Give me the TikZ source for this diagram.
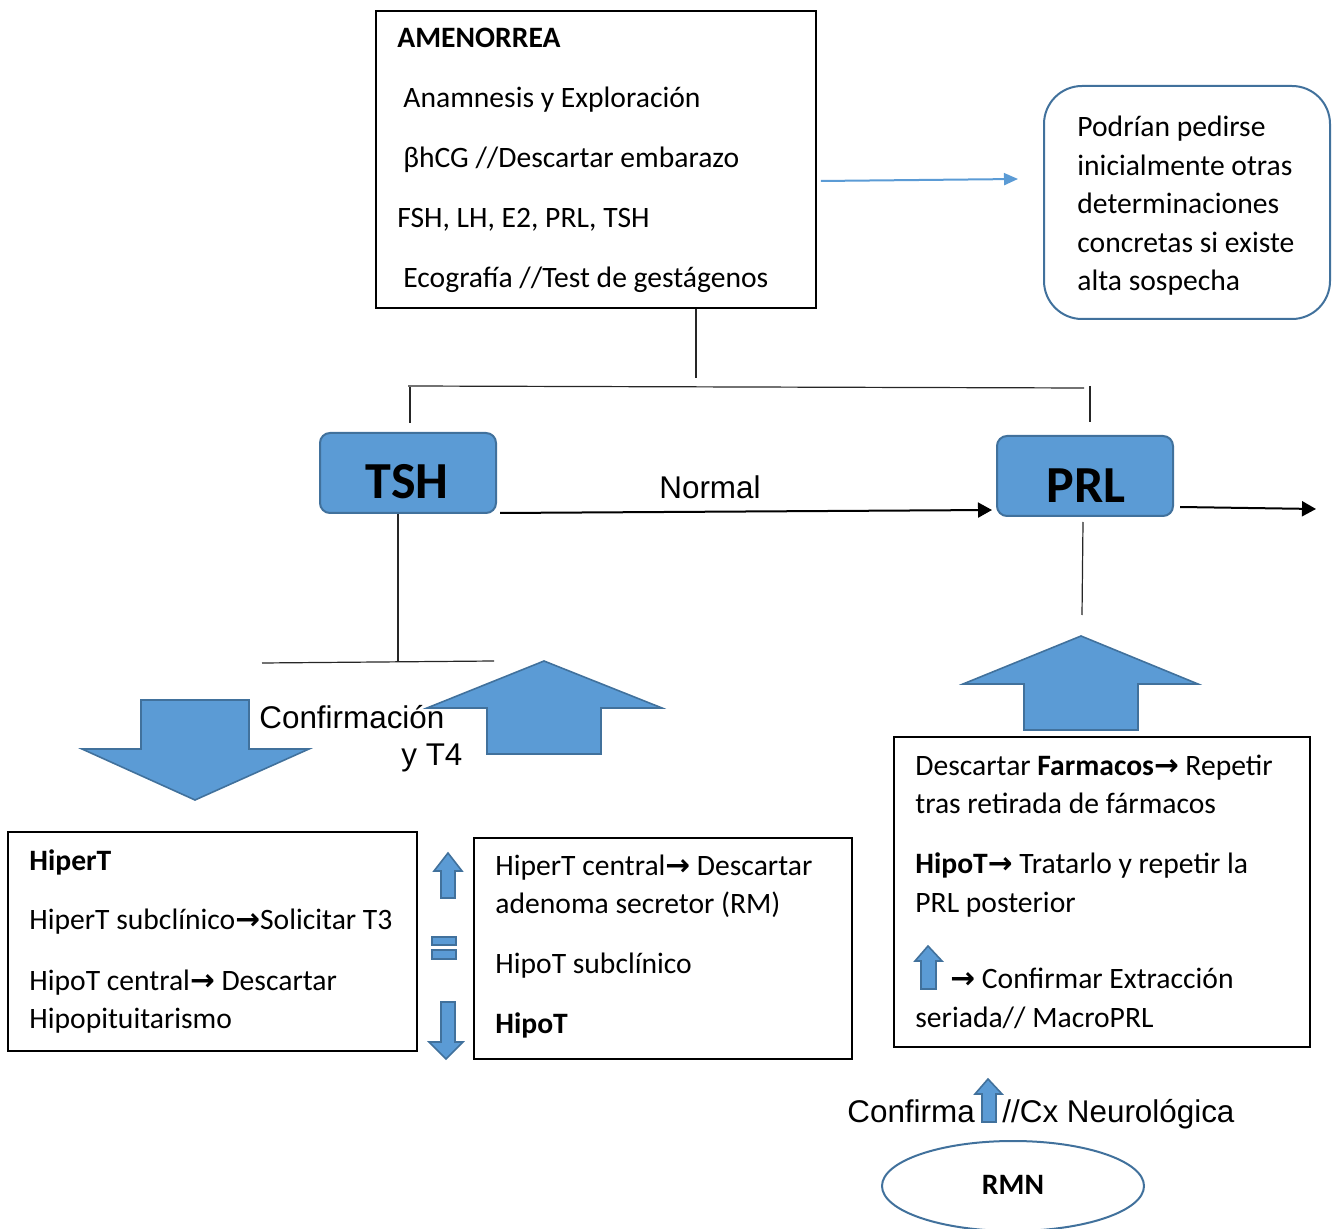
\documentclass[tikz,border=0pt]{standalone}
\usepackage{fontspec}
\setmainfont{Carlito}
\newfontfamily\arialf{Liberation Sans}
\newfontfamily\symf{DejaVu Sans}
\usetikzlibrary{arrows.meta,fit,shapes.geometric,calc}
\definecolor{bfill}{HTML}{5B9BD5}
\definecolor{bdark}{HTML}{41719C}
\newcommand{\rarr}{{\symf\bfseries\char"2192}}
\begin{document}
\begin{tikzpicture}[x={(0.5pt,0)},y={(0,-0.5pt)},
  every node/.style={font=\fontsize{14.8}{17}\selectfont},
  box/.style={draw=black,line width=0.75pt,inner sep=0pt},
  txt/.style={anchor=base west,inner sep=0pt},
  bluebox/.style={draw=bdark,fill=bfill,line width=1pt,rounded corners=5pt,inner sep=0pt},
  bigtxt/.style={inner sep=0pt,font=\fontsize{26}{26}\selectfont\bfseries},
  arl/.style={inner sep=0pt,anchor=base west,font=\arialf\fontsize{15.7}{18}\selectfont},
  blk/.style={draw=bdark,fill=bfill,line width=0.8pt,line join=miter},
  conn/.style={draw=black!85,line width=0.6pt},
  harrow/.style={draw=black,line width=1pt,-{Triangle[length=7pt,width=7.5pt]}},
]
\useasboundingbox (0,0) rectangle (1333,1229);

% AMENORREA box
\node[box,fit={(376,11) (816,308)}] (amen) {};
\node[txt] (a1) at (397,48) {\textbf{AMENORREA}};
\node[txt] (a2) at (403,108) {Anamnesis y Exploración};
\node[txt] (a3) at (403,168) {βhCG //Descartar embarazo};
\node[txt] (a4) at (397,228) {FSH, LH, E2, PRL, TSH};
\node[txt] (a5) at (403,288) {Ecografía //Test de gestágenos};

% rounded side box
\node[draw=bdark,line width=1pt,rounded corners=19pt,inner sep=0pt,fit={(1044,86) (1330,319)}] (side) {};
\node[txt] (s1) at (1077,137) {Podrían pedirse};
\node[txt] (s2) at (1077,176) {inicialmente otras};
\node[txt] (s3) at (1077,214) {determinaciones};
\node[txt] (s4) at (1077,253) {concretas si existe};
\node[txt] (s5) at (1077,291) {alta sospecha};
\coordinate (sidetip) at (1018,179);
\draw[draw=bfill,line width=1pt,-{Triangle[length=7pt,width=6pt]}] (amen.east |- 0,181) ++(4,0) -- (sidetip);

% tree from AMENORREA
\coordinate (split) at (696,378);
\coordinate (hl) at (408,386);
\coordinate (hr) at (1084,388);
\coordinate (tl) at (410,387);
\coordinate (tr) at (1090,386);
\draw[conn] (amen.south -| split) -- (split);
\draw[conn] (hl) -- (hr);

% TSH and PRL boxes
\node[bluebox,minimum width=88pt,minimum height=40pt] (tsh) at (408,473) {};
\node[bigtxt] (tshl) at (407,482) {TSH};
\node[bluebox,minimum width=88pt,minimum height=40pt] (prl) at (1085,476) {};
\node[bigtxt] (prll) at (1086,486) {PRL};
\draw[conn] (tl) -- ($(tl)+(0,36)$);
\draw[conn] (tr) -- ($(tr)+(0,36)$);

% Normal arrow
\coordinate (nend) at (992,510);
\draw[harrow] (500,513) -- (nend);
\node[arl] (normal) at (659,499) {Normal};
\coordinate (prlout) at (1316,509);
\draw[harrow] (prl.east |- 0,507) ++(6,0) -- (prlout);

% TSH branch lines
\coordinate (tdown) at (398,662);
\draw[conn] (tdown |- tsh.south) -- (tdown);
\draw[conn] (262,663) -- (494,661);

% PRL line
\coordinate (pdown) at (1082,615);
\draw[conn] (1083,522) -- (pdown);

% big block arrows
\draw[blk] (141,700) -- (249,700) -- (249,749) -- (309,749) -- (195,800) -- (82,749) -- (141,749) -- cycle;
\draw[blk] (544,661) -- (662,708) -- (601,708) -- (601,754) -- (487,754) -- (487,708) -- (427,708) -- cycle;
\draw[blk] (1081,636) -- (1198,684) -- (1138,684) -- (1138,730) -- (1024,730) -- (1024,684) -- (963,684) -- cycle;
\node[arl] (conf) at (259,728) {Confirmación};
\node[arl] (yt4) at (401,765) {y T4};

% HiperT box
\node[box,fit={(8,832) (417,1051)}] (hiper) {};
\node[txt] (h1) at (29,870) {\textbf{HiperT}};
\node[txt] (h2) at (29,929) {HiperT subclínico\rarr Solicitar T3};
\node[txt] (h3) at (29,990) {HipoT central\rarr{} Descartar};
\node[txt] (h4) at (29,1028) {Hipopituitarismo};

% small symbols
\draw[blk] (448,853) -- (462,871) -- (455,871) -- (455,898) -- (441,898) -- (441,871) -- (434,871) -- cycle;
\draw[blk] (432,937) rectangle (456,945);
\draw[blk] (432,950) rectangle (456,959);
\draw[blk] (441,1002) -- (455,1002) -- (455,1042) -- (463,1042) -- (446,1059) -- (429,1042) -- (441,1042) -- cycle;

% middle box
\node[box,fit={(474,838) (852,1059)}] (mid) {};
\node[txt] (m1) at (495,875) {HiperT central\rarr{} Descartar};
\node[txt] (m2) at (495,913) {adenoma secretor (RM)};
\node[txt] (m3) at (495,973) {HipoT subclínico};
\node[txt] (m4) at (495,1033) {\textbf{HipoT}};

% PRL box
\node[box,fit={(894,737) (1310,1047)}] (prlbox) {};
\node[txt] (p1) at (915,775) {Descartar \textbf{Farmacos}\rarr{} Repetir};
\node[txt] (p2) at (915,813) {tras retirada de fármacos};
\node[txt] (p3) at (915,873) {\textbf{HipoT}\rarr{} Tratarlo y repetir la};
\node[txt] (p4) at (915,912) {PRL posterior};
\draw[blk] (928,946) -- (942,961) -- (936,961) -- (936,989) -- (921,989) -- (921,961) -- (915,961) -- cycle;
\node[txt] (p5) at (950,988) {\rarr{} Confirmar Extracción};
\node[txt] (p6) at (915,1027) {seriada// MacroPRL};

% Confirma line
\node[arl] (cfa) at (847,1122) {Confirma};
\draw[blk] (988,1079) -- (1002,1094) -- (996,1094) -- (996,1122) -- (982,1122) -- (982,1094) -- (975,1094) -- cycle;
\node[arl] (cx) at (1002,1122) {//Cx Neurológica};

% RMN ellipse
\node[draw=bdark,line width=1pt,ellipse,minimum width=131pt,minimum height=45pt,inner sep=0pt] (rmn) at (1013,1186) {};
\node[inner sep=0pt] (rmnl) at (1013,1185) {\textbf{RMN}};
\end{tikzpicture}
\end{document}
